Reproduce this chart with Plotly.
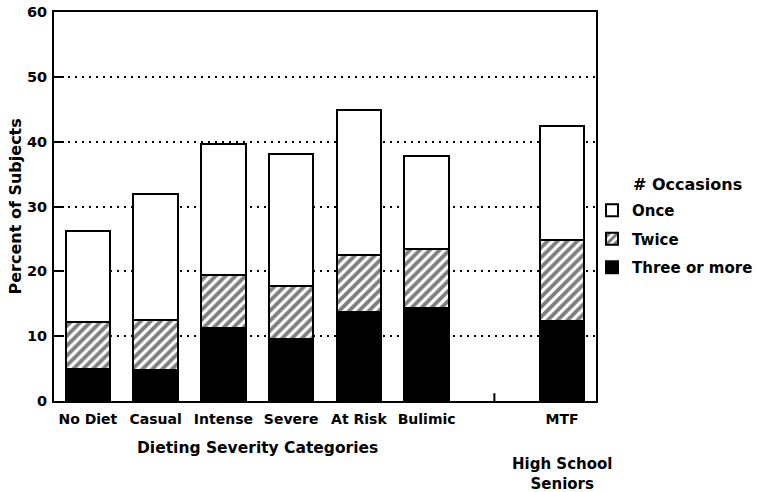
import plotly.graph_objects as go

categories = ["No Diet", "Casual", "Intense", "Severe", "At Risk", "Bulimic", "MTF"]
positions = [0, 1, 2, 3, 4, 5, 7]
three_or_more = [4.9, 4.8, 11.3, 9.5, 13.7, 14.3, 12.3]
twice = [7.3, 7.7, 8.1, 8.3, 8.8, 9.2, 12.5]
once = [14.0, 19.5, 20.2, 20.3, 22.4, 14.3, 17.6]
series_names = ["Three or more", "Twice", "Once"]

FONT = "DejaVu Sans"
W, H = 760, 492
L, T = 54, 12
R = W - 596
B = H - 401
PW, PH = W - L - R, H - T - B


def px_x(x):  # reference pixel -> paper
    return (x - L) / PW


def px_y(y):
    return (H - B - y) / PH


fig = go.Figure()
line = dict(color="black", width=2)
fig.add_trace(go.Bar(x=positions, y=three_or_more, name=series_names[0], legendrank=3,
                     marker=dict(color="black", line=line), width=0.66))
fig.add_trace(go.Bar(x=positions, y=twice, name=series_names[1], legendrank=2,
                     marker=dict(color="white", line=line,
                                 pattern=dict(shape="/", fgcolor="black", bgcolor="white",
                                              size=7, solidity=0.55, fillmode="overlay")),
                     width=0.66))
fig.add_trace(go.Bar(x=positions, y=once, name=series_names[2], legendrank=1,
                     marker=dict(color="white", line=line), width=0.66))
for i, tr in enumerate(fig.data):
    tr.legendgroup = "g%d" % i

fig.update_layout(
    width=W, height=H, barmode="stack",
    margin=dict(l=L, r=R, t=T, b=B, autoexpand=False),
    plot_bgcolor="white", paper_bgcolor="white",
    font=dict(family=FONT, size=14, color="black"),
    showlegend=True,
    legend=dict(x=px_x(592), y=px_y(194), xanchor="left", yanchor="top",
                traceorder="grouped", tracegroupgap=6,
                font=dict(family=FONT, size=15, color="black", weight="bold"),
                bgcolor="rgba(0,0,0,0)"),
    xaxis=dict(range=[-0.5, 7.5], tickvals=positions, ticktext=categories,
               showline=True, linecolor="black", linewidth=2, mirror=True,
               ticks="", showgrid=False, zeroline=False, automargin=False,
               ticklabelstandoff=4,
               tickfont=dict(family=FONT, size=14, weight="bold")),
    yaxis=dict(range=[0, 60], dtick=10, showline=True, linecolor="black", linewidth=2,
               mirror=True, ticks="inside", ticklen=10, tickwidth=2, tickcolor="black",
               showgrid=True, gridcolor="black", gridwidth=1.5, griddash="2px,5px",
               zeroline=False, automargin=False, ticklabelstandoff=2,
               ticklabeloverflow="allow",
               tickfont=dict(family=FONT, size=14.5, weight="bold")),
    annotations=[
        dict(text="<b>Percent of Subjects</b>", x=px_x(15), y=0.5, xref="paper", yref="paper",
             xanchor="center", yanchor="middle", textangle=-90, showarrow=False,
             font=dict(family=FONT, size=16)),
        dict(text="<b># Occasions</b>", x=px_x(687), y=px_y(185), xref="paper", yref="paper",
             xanchor="center", yanchor="middle", showarrow=False,
             font=dict(family=FONT, size=16)),
        dict(text="<b>Dieting Severity Categories</b>", x=2.5, xref="x", y=px_y(448), yref="paper",
             yanchor="middle", showarrow=False, font=dict(family=FONT, size=15.5)),
        dict(text="<b>High School<br>Seniors</b>", x=7, xref="x", y=px_y(474), yref="paper",
             yanchor="middle", showarrow=False, font=dict(family=FONT, size=15)),
    ],
    shapes=[dict(type="line", x0=6, x1=6, y0=0, y1=1.2, xref="x", yref="y",
                 line=dict(color="black", width=2))],
)
fig.write_html("out.html", config={"displayModeBar": False},
               post_script="document.body.style.margin='0';")
